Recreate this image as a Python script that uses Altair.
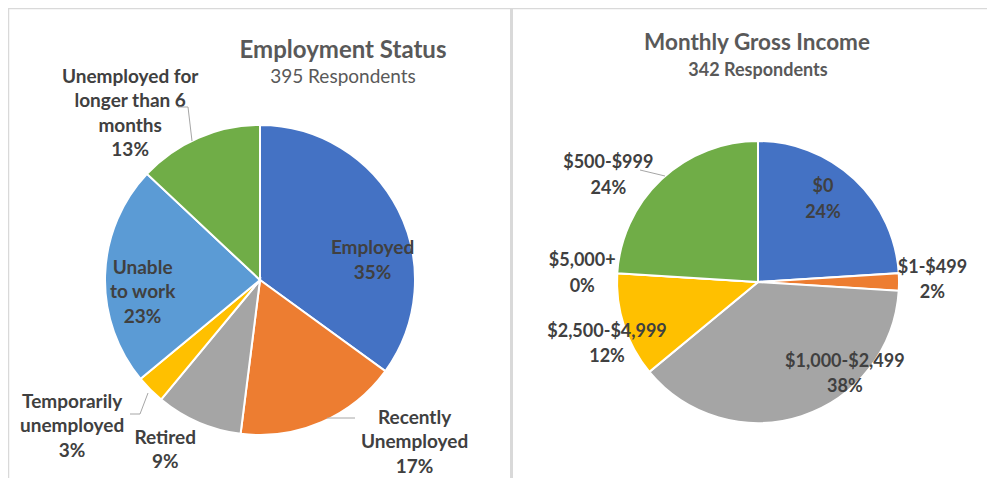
import math
import altair as alt
import pandas as pd

# ---------------- data ----------------
emp_title = "Employment Status"
emp_subtitle = "395 Respondents"
emp_categories = ["Employed", "Recently Unemployed", "Retired",
                  "Temporarily unemployed", "Unable to work",
                  "Unemployed for longer than 6 months"]
emp_label_names = ["Employed", "Recently\nUnemployed", "Retired",
                   "Temporarily\nunemployed", "Unable\nto work",
                   "Unemployed for\nlonger than 6\nmonths"]
emp_values = [35, 17, 9, 3, 23, 13]

inc_title = "Monthly Gross Income"
inc_subtitle = "342 Respondents"
inc_categories = ["$0", "$1-$499", "$1,000-$2,499", "$2,500-$4,999",
                  "$5,000+", "$500-$999"]
inc_values = [24, 2, 38, 12, 0, 24]

slice_colors = ["#4472C4", "#ED7D31", "#A5A5A5", "#FFC000", "#5B9BD5", "#70AD47"]

# ---------------- layout ----------------
W, H = 979, 470
FONT = "Lato"
LABEL_COLOR = "#404040"
TITLE_COLOR = "#595959"

emp_center = (252, 272)
emp_radius = 155
# placement of each label's first line: (angle in degrees clockwise from 12 o'clock, radius px)
emp_label_place = [(74.2, 117), (131.7, 207), (211, 184), (237, 224), (275.9, 118), (327.4, 241)]

inc_center = (750, 274)
inc_radius = 141
inc_label_place = [(34.4, 115), (85.4, 175), (132.6, 118), (251.7, 159), (276.8, 177), (308.4, 191)]

# leader lines (chart pixel space)
leaders = [
    (170, 99, 180, 99), (180, 99, 184, 133),
    (140, 385, 132, 406), (132, 406, 122, 406),
    (319, 410, 347, 410),
    (632, 162, 657, 168),
]


def pie_frame(categories, names, values, place):
    rows = []
    for i, (c, n, v, (ang, r)) in enumerate(zip(categories, names, values, place)):
        rows.append({
            "idx": i, "cat": c, "value": v,
            "label": f"{n}\n{v}%",
            "ang": math.radians(ang), "rad": r,
        })
    return pd.DataFrame(rows)


def pie_layers(df, categories, center, radius, font_size, line_height):
    base = alt.Chart(df)
    arcs = base.mark_arc(outerRadius=radius, stroke="white", strokeWidth=2).encode(
        theta=alt.Theta("value:Q", stack=True),
        color=alt.Color("cat:N", scale=alt.Scale(domain=categories, range=slice_colors), legend=None),
        order=alt.Order("idx:Q"),
        x=alt.value(center[0]),
        y=alt.value(center[1]),
    )
    labels = base.mark_text(
        font=FONT, fontSize=font_size, fontWeight="bold", color=LABEL_COLOR,
        lineBreak="\n", lineHeight=line_height, align="center", baseline="middle",
    ).encode(
        text="label:N",
        theta=alt.Theta("ang:Q", scale=None),
        radius=alt.Radius("rad:Q", scale=None),
        x=alt.value(center[0]),
        y=alt.value(center[1]),
    )
    return [arcs, labels]


emp_df = pie_frame(emp_categories, emp_label_names, emp_values, emp_label_place)
inc_df = pie_frame(inc_categories, inc_categories, inc_values, inc_label_place)

# panel frame lines
frame_df = pd.DataFrame({
    "x": [0.5, 0, 503.5, 505],
    "y": [0, 0.5, 0, 0.5],
    "x2": [0.5, 503, 503.5, W],
    "y2": [H, 0.5, H, 0.5],
    "w": [1.5, 1.5, 3, 1.5],
})
frames = alt.Chart(frame_df).mark_rule(color="#d9d9d9").encode(
    x=alt.X("x:Q", scale=None), y=alt.Y("y:Q", scale=None),
    x2="x2:Q", y2="y2:Q",
    strokeWidth=alt.StrokeWidth("w:Q", scale=None, legend=None),
)

leader_df = pd.DataFrame(leaders, columns=["x", "y", "x2", "y2"])
leader_rules = alt.Chart(leader_df).mark_rule(color="#a6a6a6", strokeWidth=1).encode(
    x=alt.X("x:Q", scale=None), y=alt.Y("y:Q", scale=None),
    x2="x2:Q", y2="y2:Q",
)


def title_text(txt, x, y, size, weight):
    return alt.Chart(pd.DataFrame({"t": [txt]})).mark_text(
        font=FONT, fontSize=size, fontWeight=weight, color=TITLE_COLOR,
        align="center", baseline="alphabetic",
    ).encode(text="t:N", x=alt.value(x), y=alt.value(y))


titles = [
    title_text(emp_title, 335, 50, 24, "bold"),
    title_text(emp_subtitle, 335, 75, 19, "normal"),
    title_text(inc_title, 749, 42, 22.5, "bold"),
    title_text(inc_subtitle, 750, 68, 18, "bold"),
]

chart = alt.layer(
    frames,
    *pie_layers(emp_df, emp_categories, emp_center, emp_radius, 19, 24.5),
    *pie_layers(inc_df, inc_categories, inc_center, inc_radius, 18, 25.5),
    leader_rules,
    *titles,
).resolve_scale(color="independent", theta="independent").properties(
    width=W, height=H, padding=0, autosize=alt.AutoSizeParams(type="none"),
    background="white",
).configure_view(stroke=None)

chart.save("out.html", embed_options={"renderer": "svg", "actions": False})
